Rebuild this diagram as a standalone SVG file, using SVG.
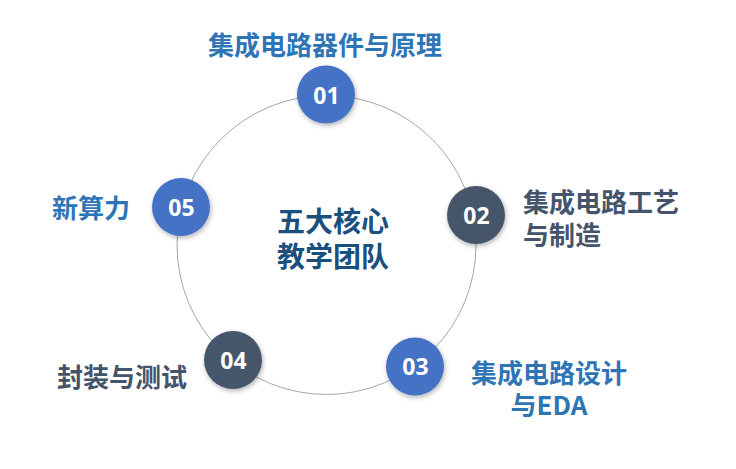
<svg xmlns="http://www.w3.org/2000/svg" width="736" height="469" viewBox="0 0 736 469">
<defs>
<filter id="sh" x="-30%" y="-30%" width="160%" height="160%">
<feDropShadow dx="1" dy="2" stdDeviation="2.5" flood-color="#000" flood-opacity="0.3"/>
</filter>
<style>
.num{font-family:"Open Sans","Liberation Sans",sans-serif;font-weight:700;font-size:23px;fill:#fff;text-anchor:middle}
.lbl{font-family:"Noto Sans CJK SC","Microsoft YaHei",sans-serif;font-weight:700;font-size:26px}
.blue{fill:#2E75B6}
.dark{fill:#44546A}
.cb{fill:#4472C4;filter:url(#sh)}
.cd{fill:#44546A;filter:url(#sh)}
.ctr{font-family:"Noto Sans CJK SC","Microsoft YaHei",sans-serif;font-weight:700;font-size:28px;fill:#1B4F7E;text-anchor:middle}
</style>
</defs>
<rect width="736" height="469" fill="#fff"/>
<g id="connectors">
<circle cx="326.5" cy="245" r="149.5" fill="none" stroke="#A6A6A6" stroke-width="1"/>
</g>
<g id="center">
<text class="ctr" x="333" y="232">五大核心</text>
<text class="ctr" x="333" y="267">教学团队</text>
</g>
<g id="node01">
<circle class="cb" cx="326" cy="94.5" r="29"/>
<text class="num" x="326.5" y="103.5">01</text>
<text class="lbl blue" x="325" y="55" text-anchor="middle">集成电路器件与原理</text>
</g>
<g id="node02">
<circle class="cd" cx="476" cy="215" r="29"/>
<text class="num" x="476.5" y="223.5">02</text>
<text class="lbl dark" x="523" y="212">集成电路工艺</text>
<text class="lbl dark" x="523" y="245">与制造</text>
</g>
<g id="node03">
<circle class="cb" cx="415" cy="366.5" r="29"/>
<text class="num" x="415.5" y="375">03</text>
<text class="lbl blue" x="549" y="383" text-anchor="middle">集成电路设计</text>
<text class="lbl blue" x="549" y="415" text-anchor="middle">与EDA</text>
</g>
<g id="node04">
<circle class="cd" cx="233" cy="360" r="29"/>
<text class="num" x="233.5" y="368.5">04</text>
<text class="lbl dark" x="57" y="387">封装与测试</text>
</g>
<g id="node05">
<circle class="cb" cx="181" cy="207" r="29"/>
<text class="num" x="181.5" y="215.5">05</text>
<text class="lbl blue" x="52" y="218">新算力</text>
</g>
</svg>
